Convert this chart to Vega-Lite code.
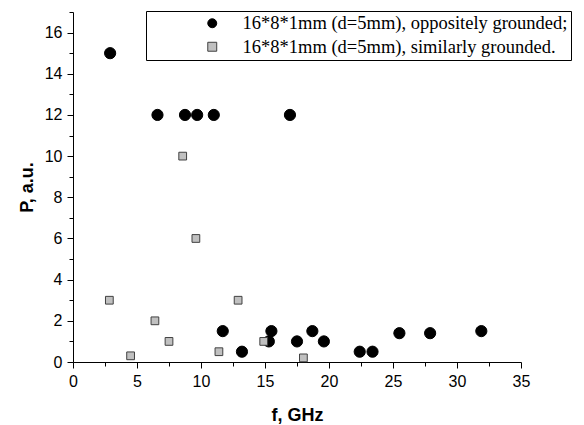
{
  "$schema": "https://vega.github.io/schema/vega-lite/v6.json",
  "width": 448,
  "height": 350,
  "autosize": {"type": "none"},
  "padding": {"left": 73, "top": 12, "right": 63, "bottom": 63},
  "background": "white",
  "config": {
    "view": {"stroke": null},
    "legend": {
      "orient": "none",
      "titleOrient": "left", "titlePadding": 54, "titleFontSize": 18, "titleFont": "Liberation Serif",
      "padding": 3,
      "labelFont": "Liberation Serif", "labelFontSize": 18.5,
      "labelOffset": 21, "rowPadding": 4.5, "symbolSize": 80, "symbolStrokeWidth": 1,
      "labelLimit": 600
    }
  },
  "data": {
    "values": [
      {"series": "16*8*1mm (d=5mm), oppositely grounded;", "f": 2.9, "P": 15},
      {"series": "16*8*1mm (d=5mm), oppositely grounded;", "f": 6.6, "P": 12},
      {"series": "16*8*1mm (d=5mm), oppositely grounded;", "f": 8.75, "P": 12},
      {"series": "16*8*1mm (d=5mm), oppositely grounded;", "f": 9.7, "P": 12},
      {"series": "16*8*1mm (d=5mm), oppositely grounded;", "f": 11.0, "P": 12},
      {"series": "16*8*1mm (d=5mm), oppositely grounded;", "f": 16.95, "P": 12},
      {"series": "16*8*1mm (d=5mm), oppositely grounded;", "f": 11.7, "P": 1.5},
      {"series": "16*8*1mm (d=5mm), oppositely grounded;", "f": 13.2, "P": 0.5},
      {"series": "16*8*1mm (d=5mm), oppositely grounded;", "f": 15.3, "P": 1.0},
      {"series": "16*8*1mm (d=5mm), oppositely grounded;", "f": 15.5, "P": 1.5},
      {"series": "16*8*1mm (d=5mm), oppositely grounded;", "f": 17.5, "P": 1.0},
      {"series": "16*8*1mm (d=5mm), oppositely grounded;", "f": 18.7, "P": 1.5},
      {"series": "16*8*1mm (d=5mm), oppositely grounded;", "f": 19.6, "P": 1.0},
      {"series": "16*8*1mm (d=5mm), oppositely grounded;", "f": 22.4, "P": 0.5},
      {"series": "16*8*1mm (d=5mm), oppositely grounded;", "f": 23.4, "P": 0.5},
      {"series": "16*8*1mm (d=5mm), oppositely grounded;", "f": 25.5, "P": 1.4},
      {"series": "16*8*1mm (d=5mm), oppositely grounded;", "f": 27.9, "P": 1.4},
      {"series": "16*8*1mm (d=5mm), oppositely grounded;", "f": 31.9, "P": 1.5},
      {"series": "16*8*1mm (d=5mm), similarly grounded.", "f": 8.57, "P": 10.0},
      {"series": "16*8*1mm (d=5mm), similarly grounded.", "f": 2.84, "P": 3.0},
      {"series": "16*8*1mm (d=5mm), similarly grounded.", "f": 4.5, "P": 0.3},
      {"series": "16*8*1mm (d=5mm), similarly grounded.", "f": 6.4, "P": 2.0},
      {"series": "16*8*1mm (d=5mm), similarly grounded.", "f": 7.5, "P": 1.0},
      {"series": "16*8*1mm (d=5mm), similarly grounded.", "f": 9.6, "P": 6.0},
      {"series": "16*8*1mm (d=5mm), similarly grounded.", "f": 11.4, "P": 0.5},
      {"series": "16*8*1mm (d=5mm), similarly grounded.", "f": 12.9, "P": 3.0},
      {"series": "16*8*1mm (d=5mm), similarly grounded.", "f": 14.9, "P": 1.0},
      {"series": "16*8*1mm (d=5mm), similarly grounded.", "f": 18.0, "P": 0.2}
    ]
  },
  "encoding": {
    "x": {
      "field": "f", "type": "quantitative",
      "scale": {"domain": [0, 35], "nice": false, "zero": false},
      "axis": {
        "title": "f, GHz",
        "values": [0, 2.5, 5, 7.5, 10, 12.5, 15, 17.5, 20, 22.5, 25, 27.5, 30, 32.5, 35],
        "labelExpr": "datum.value % 5 === 0 ? datum.label : ''",
        "tickSize": {"condition": {"test": "datum.value % 5 === 0", "value": 6}, "value": 4},
        "grid": false,
        "domainColor": "black", "tickColor": "black", "domainWidth": 1, "tickWidth": 1,
        "labelFont": "Liberation Sans", "labelFontSize": 16, "labelColor": "black", "labelPadding": 5,
        "titleFont": "Liberation Sans", "titleFontSize": 18, "titleFontWeight": "bold", "titleColor": "black",
        "titlePadding": 17,
        "labelFlush": false
      }
    },
    "y": {
      "field": "P", "type": "quantitative",
      "scale": {"domain": [0, 17], "nice": false, "zero": false},
      "axis": {
        "title": "P, a.u.",
        "values": [0, 1, 2, 3, 4, 5, 6, 7, 8, 9, 10, 11, 12, 13, 14, 15, 16, 17],
        "labelExpr": "datum.value % 2 === 0 ? datum.label : ''",
        "tickSize": {"condition": {"test": "datum.value % 2 === 0", "value": 6}, "value": 4},
        "grid": false,
        "domainColor": "black", "tickColor": "black", "domainWidth": 1, "tickWidth": 1,
        "labelFont": "Liberation Sans", "labelFontSize": 16, "labelColor": "black", "labelPadding": 5,
        "titleFont": "Liberation Sans", "titleFontSize": 18, "titleFontWeight": "bold", "titleColor": "black",
        "titleX": -46, "titleY": 175, "titleAngle": -90, "titleAlign": "center", "titleBaseline": "middle",
        "labelFlush": false
      }
    },
    "shape": {
      "field": "series", "type": "nominal",
      "scale": {"domain": ["16*8*1mm (d=5mm), oppositely grounded;", "16*8*1mm (d=5mm), similarly grounded."], "range": ["circle", "square"]},
      "legend": {
        "title": "\u00a0", "titleColor": "white", "legendX": 73, "legendY": -1,
        "strokeColor": "black", "fillColor": "white", "labelColor": "black"
      }
    },
    "fill": {
      "field": "series", "type": "nominal",
      "scale": {"domain": ["16*8*1mm (d=5mm), oppositely grounded;", "16*8*1mm (d=5mm), similarly grounded."], "range": ["black", "#c0c0c0"]},
      "legend": {
        "title": "\u00a0", "titleColor": "white", "legendX": 73, "legendY": -1,
        "strokeColor": "black", "fillColor": "white", "labelColor": "black"
      }
    },
    "stroke": {
      "field": "series", "type": "nominal",
      "scale": {"domain": ["16*8*1mm (d=5mm), oppositely grounded;", "16*8*1mm (d=5mm), similarly grounded."], "range": ["black", "#404040"]},
      "legend": {
        "title": "\u00a0", "titleColor": "white", "legendX": 73, "legendY": -1,
        "strokeColor": "black", "fillColor": "white", "labelColor": "black"
      }
    }
  },
  "layer": [
    {
      "transform": [{"filter": "datum.series == '16*8*1mm (d=5mm), oppositely grounded;'"}],
      "mark": {"type": "point", "filled": true, "strokeWidth": 1, "size": 125, "opacity": 1}
    },
    {
      "transform": [{"filter": "datum.series == '16*8*1mm (d=5mm), similarly grounded.'"}],
      "mark": {"type": "point", "filled": true, "strokeWidth": 1, "size": 60, "opacity": 1}
    }
  ]
}
